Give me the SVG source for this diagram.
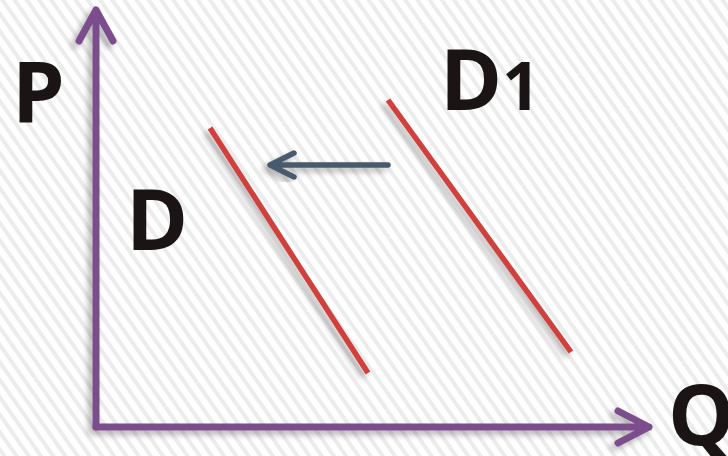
<svg xmlns="http://www.w3.org/2000/svg" width="728" height="456" viewBox="0 0 728 456">
<defs>
<pattern id="stripes" patternUnits="userSpaceOnUse" width="10" height="40" patternTransform="rotate(-35)">
<rect x="0" y="0" width="10" height="40" fill="#ffffff"/>
<rect x="0" y="0" width="4" height="40" fill="#ececec"/>
</pattern>
<filter id="shadow" x="-20%" y="-20%" width="140%" height="140%">
<feDropShadow dx="-4" dy="4" stdDeviation="3" flood-color="#000" flood-opacity="0.3"/>
</filter>
<style>
.axis{stroke:#7b4e8c;stroke-width:7;fill:none;stroke-linecap:round;stroke-linejoin:round}
.curve{stroke:#d03f3d;stroke-width:5.5;fill:none}
.shift{stroke:#4a5a6d;stroke-width:5.5;fill:none;stroke-linecap:round;stroke-linejoin:round}
.lbl{font-family:"Open Sans","DejaVu Sans",sans-serif;font-weight:700;fill:#1a1414;font-size:84px}
</style>
</defs>
<rect width="728" height="456" fill="url(#stripes)"/>
<g id="connectors">
<g id="axes" filter="url(#shadow)">
<path class="axis" d="M96,427 V10 M79,41 L96,10 L113,41"/>
<path class="axis" d="M96,427 H649 M618,411 L649,427 L618,443"/>
</g>
<path id="shift-arrow" class="shift" filter="url(#shadow)" d="M388,165 H270 M294,153 L270,165 L294,177"/>
</g>
<g id="D" filter="url(#shadow)"><line class="curve" x1="210" y1="128" x2="368" y2="373"/></g>
<g id="D1" filter="url(#shadow)"><line class="curve" x1="388" y1="100" x2="571" y2="352"/></g>
<g id="labels">
<text id="label-P" class="lbl" x="12" y="122">P</text>
<text id="label-D1" class="lbl" x="440" y="110">D<tspan font-size="66">1</tspan></text>
<text id="label-D" class="lbl" x="126" y="250">D</text>
<text id="label-Q" class="lbl" x="668" y="445">Q</text>
</g>
</svg>
